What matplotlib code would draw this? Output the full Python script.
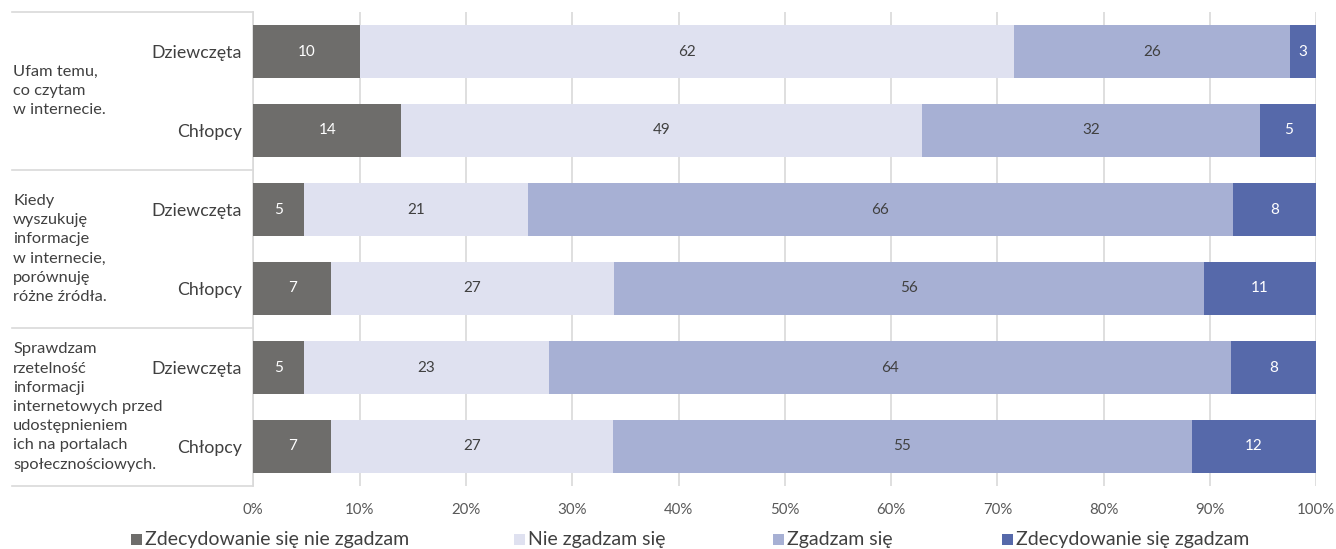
import matplotlib.pyplot as plt
from matplotlib.patches import Rectangle
from matplotlib.ticker import PercentFormatter
import matplotlib.transforms as mtransforms

plt.rcParams['font.family'] = ['Lato', 'DejaVu Sans']

# data (percent of answers)
rows = ['Dziewczęta', 'Chłopcy', 'Dziewczęta', 'Chłopcy', 'Dziewczęta', 'Chłopcy']
groups = [['Ufam temu,', 'co czytam', 'w internecie.'],
          ['Kiedy', 'wyszukuję', 'informacje', 'w internecie,', 'porównuję', 'różne źródła.'],
          ['Sprawdzam', 'rzetelność', 'informacji', 'internetowych przed',
           'udostępnieniem', 'ich na portalach', 'społecznościowych.']]
series = ['Zdecydowanie się nie zgadzam', 'Nie zgadzam się', 'Zgadzam się', 'Zdecydowanie się zgadzam']
strongly_disagree = [10.0, 13.9, 4.8, 7.3, 4.8, 7.3]
disagree = [61.6, 49.0, 21.0, 26.6, 23.0, 26.5]
agree = [25.9, 31.8, 66.4, 55.5, 64.2, 54.5]
strongly_agree = [2.5, 5.3, 7.8, 10.6, 8.0, 11.7]

colors = ['#6e6d6b', '#dfe1f0', '#a7b0d4', '#5669aa']
text_colors = ['white', '#404040', '#404040', 'white']
grid_c = '#d9d9d9'

W, H = 1336, 549
fig = plt.figure(figsize=(W / 100, H / 100), dpi=100)
ax = fig.add_axes([253.3 / W, (H - 486) / H, 1063 / W, 474 / H])

ypos = list(range(len(rows)))
left = [0.0] * len(rows)
for vals, col, tcol in zip([strongly_disagree, disagree, agree, strongly_agree], colors, text_colors):
    ax.barh(ypos, vals, left=left, height=0.66, color=col, zorder=3)
    for y, l, v in zip(ypos, left, vals):
        ax.text(l + v / 2, y, str(int(v + 0.5)), ha='center', va='center',
                color=tcol, fontsize=11, zorder=4)
    left = [a + b for a, b in zip(left, vals)]

ax.set_xlim(0, 100)
ax.set_ylim(len(rows) - 0.5, -0.5)
ax.set_xticks(range(0, 101, 10))
ax.xaxis.set_major_formatter(PercentFormatter(decimals=0))
ax.set_yticks(ypos)
ax.set_yticklabels(rows)
ax.tick_params(axis='x', length=0, pad=12, labelsize=10.8, labelcolor='#595959')
ax.tick_params(axis='y', length=0, pad=8, labelsize=12.8, labelcolor='#404040')
ax.grid(axis='x', color=grid_c, linewidth=1.2, zorder=0)
for s in ['top', 'right', 'bottom']:
    ax.spines[s].set_visible(False)
ax.spines['left'].set_color(grid_c)
ax.spines['left'].set_linewidth(1.2)

# group labels (one text per line) and separators on the left
trans = mtransforms.blended_transform_factory(ax.transAxes, ax.transData)
x0 = -0.226
step = 19.2 / 79  # line step in data units (one bar slot is 79 px)
for i, lines in enumerate(groups):
    mid = 2 * i + 0.5
    n = len(lines)
    for k, line in enumerate(lines):
        ax.text(x0, mid + (k - (n - 1) / 2) * step, line, transform=trans,
                ha='left', va='center', fontsize=11.8, color='#404040')
for yb in [-0.5, 1.5, 3.5, 5.5]:
    ax.plot([x0 - 0.001, 0], [yb, yb], transform=trans, color=grid_c, lw=1.2, clip_on=False)

# legend, laid out like the original
leg_x = [131, 514, 773, 1002]
leg_y = H - 539
sq = 11
for x, c, s in zip(leg_x, colors, series):
    fig.add_artist(Rectangle((x / W, (leg_y - sq / 2) / H), sq / W, sq / H,
                             transform=fig.transFigure, facecolor=c, edgecolor='none'))
    fig.text((x + sq + 3) / W, leg_y / H, s, ha='left', va='center',
             fontsize=14, color='#404040')

fig.savefig('out.png', dpi=100)
